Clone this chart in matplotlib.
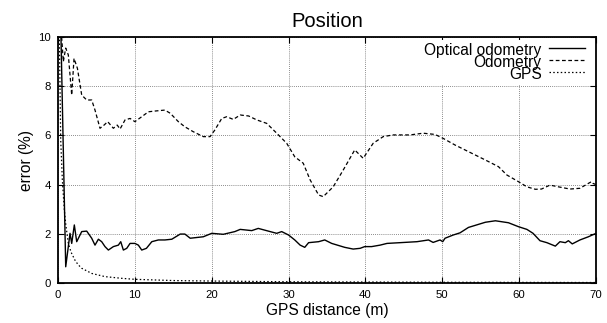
import matplotlib
matplotlib.use("Agg")
import matplotlib.pyplot as plt

plt.rcParams['font.family'] = ['Liberation Sans', 'DejaVu Sans']

# Optical odometry (solid)
opt_x = [0.35, 1.0, 1.56, 1.78, 2.12, 2.43, 3.08, 3.73, 4.38, 4.81,
         5.25, 5.68, 6.11, 6.55, 7.2, 7.85, 8.16, 8.5, 8.94, 9.37,
         10.0, 10.45, 10.89, 11.5, 12.2, 13.05, 13.9, 14.8, 15.9, 16.5,
         17.2, 18.9, 20.0, 21.5, 23.0, 23.7, 25.2, 26.05, 27.6, 28.45,
         29.1, 30.0, 30.8, 31.5, 32.1, 32.6, 33.9, 34.7, 35.6, 37.3,
         38.4, 39.3, 39.9, 40.8, 41.9, 42.8, 44.5, 46.7, 48.2, 48.8,
         49.7, 50.05, 50.35, 51.4, 52.3, 53.4, 55.6, 56.9, 58.6, 59.9,
         61.0, 61.8, 62.7, 63.6, 64.7, 65.3, 66.0, 66.4, 66.9, 67.9,
         69.0, 70.0]
opt_y = [10.5, 0.66, 2.02, 1.61, 2.36, 1.68, 2.09, 2.11, 1.82, 1.54,
         1.78, 1.68, 1.48, 1.34, 1.48, 1.54, 1.68, 1.34, 1.41, 1.61,
         1.61, 1.54, 1.34, 1.41, 1.68, 1.75, 1.75, 1.78, 1.99, 1.99,
         1.82, 1.88, 2.02, 1.98, 2.09, 2.18, 2.13, 2.22, 2.09, 2.02,
         2.09, 1.95, 1.75, 1.54, 1.45, 1.64, 1.68, 1.75, 1.61, 1.45,
         1.38, 1.41, 1.48, 1.48, 1.54, 1.61, 1.64, 1.68, 1.75, 1.65,
         1.75, 1.68, 1.82, 1.95, 2.04, 2.26, 2.47, 2.53, 2.45, 2.29,
         2.18, 2.02, 1.72, 1.64, 1.5, 1.68, 1.64, 1.72, 1.59, 1.75,
         1.88, 2.02]

# Odometry (dashed)
odo_x = [0.2, 0.48, 0.69, 1.0, 1.34, 1.78, 2.08, 2.52, 3.08, 3.73,
         4.38, 4.81, 5.46, 5.99, 6.46, 7.2, 7.7, 8.07, 8.72, 9.37,
         10.0, 10.89, 11.75, 12.6, 13.9, 14.6, 15.65, 16.5, 17.6, 18.9,
         19.78, 20.4, 21.3, 21.95, 22.8, 23.7, 24.8, 25.85, 27.15, 28.45,
         29.75, 30.8, 31.9, 32.8, 33.9, 34.5, 35.8, 37.1, 38.6, 39.7,
         41.0, 42.3, 43.6, 45.8, 47.5, 49.05, 50.1, 51.65, 53.4, 55.6,
         57.3, 58.4, 59.9, 61.0, 62.1, 62.9, 64.0, 65.1, 66.6, 67.9,
         69.0, 69.4, 69.6, 70.0]
odo_y = [10.5, 9.95, 9.0, 9.55, 9.27, 7.64, 9.13, 8.73, 7.64, 7.44,
         7.44, 7.03, 6.29, 6.42, 6.56, 6.29, 6.42, 6.26, 6.63, 6.69,
         6.56, 6.76, 6.96, 6.99, 7.03, 6.9, 6.56, 6.35, 6.15, 5.95,
         5.95, 6.22, 6.69, 6.76, 6.65, 6.83, 6.79, 6.63, 6.49, 6.09,
         5.68, 5.13, 4.87, 4.19, 3.58, 3.51, 3.91, 4.59, 5.41, 5.07,
         5.68, 5.95, 6.02, 6.02, 6.09, 6.04, 5.88, 5.61, 5.34, 5.0,
         4.73, 4.39, 4.12, 3.91, 3.81, 3.82, 3.98, 3.91, 3.82, 3.85,
         4.05, 4.12, 4.05, 4.0]

# GPS (dotted)
gps_x = [0.15, 0.35, 0.56, 0.82, 1.0, 1.34, 1.7, 2.2, 2.6, 3.08,
         4.38, 6.1, 8.3, 10.0, 15.0, 20.0, 30.0, 40.0, 50.0, 60.0, 70.0]
gps_y = [10.5, 5.8, 4.2, 2.97, 2.4, 1.61, 1.25, 0.93, 0.75, 0.6,
         0.39, 0.26, 0.19, 0.15, 0.1, 0.08, 0.05, 0.04, 0.03, 0.025, 0.02]

fig = plt.figure(figsize=(6.07, 3.23), dpi=100)
ax = fig.add_axes([0.0956, 0.1238, 0.8864, 0.7616])

ax.plot(opt_x, opt_y, color='black', linewidth=1.0, label='Optical odometry')
ax.plot(odo_x, odo_y, color='black', linewidth=0.9, linestyle=(0, (3, 2)), label='Odometry')
ax.plot(gps_x, gps_y, color='black', linewidth=0.9, linestyle=(0, (1.2, 1.8)), label='GPS')

ax.set_xlim(0, 70)
ax.set_ylim(0, 10)
ax.set_xticks(range(0, 71, 10))
ax.set_yticks(range(0, 11, 2))
ax.grid(True, color='0.4', linestyle=(0, (1, 1.5)), linewidth=0.6)
ax.tick_params(direction='in', top=True, right=True, labelsize=8.2, length=4, width=0.8, pad=5)
for s in ax.spines.values():
    s.set_linewidth(1.3)

ax.set_title('Position', fontsize=14.5, pad=7)
ax.set_xlabel('GPS distance (m)', fontsize=11.2, labelpad=2)
ax.set_ylabel('error (%)', fontsize=11.2, labelpad=3)

leg = ax.legend(loc='upper right', bbox_to_anchor=(1.0, 1.02), markerfirst=False,
                fontsize=11.2, labelspacing=-0.2, handlelength=2.3, handletextpad=0.5,
                borderpad=0.2, borderaxespad=0.5, frameon=True, fancybox=False)
leg.get_frame().set_edgecolor('none')
leg.get_frame().set_facecolor('white')
leg.get_frame().set_alpha(1.0)
for t in leg.get_texts():
    t.set_ha('right')
# right-align labels
leg._legend_box.align = 'right'
for vp in leg._legend_box.get_children()[1].get_children():
    for hp in vp.get_children():
        hp.align = 'right'

fig.savefig('out.png', dpi=100)
